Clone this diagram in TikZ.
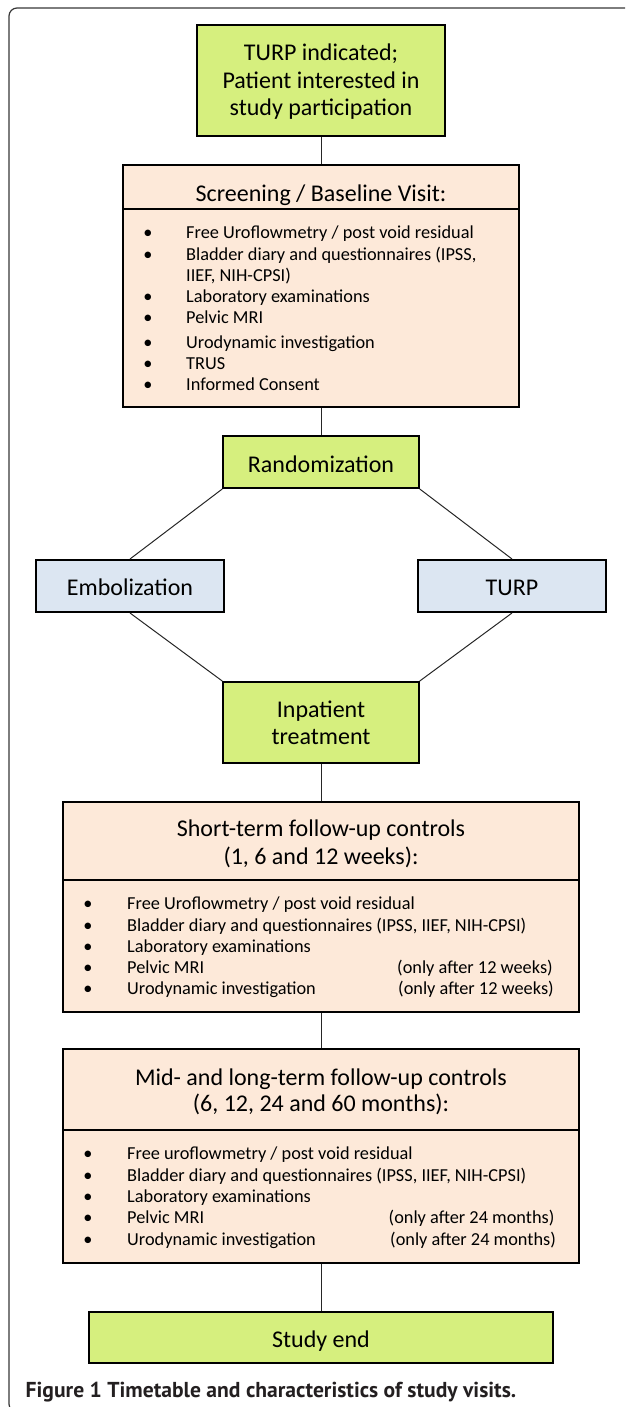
\documentclass[tikz,border=0pt]{standalone}
\usepackage{fontspec}
\setmainfont{Carlito}
\newfontfamily\capfont{PT Sans}
\definecolor{boxgreen}{RGB}{214,239,126}
\definecolor{boxpeach}{RGB}{253,233,217}
\definecolor{boxblue}{RGB}{220,230,242}
\definecolor{framegray}{RGB}{55,55,55}
\definecolor{captext}{RGB}{35,31,32}
\begin{document}
\begin{tikzpicture}[x=1pt,y=-1pt,
  box/.style={draw=black, line width=2pt, inner sep=0pt, anchor=center},
  gbox/.style={box, fill=boxgreen},
  pbox/.style={box, fill=boxpeach},
  bbox/.style={box, fill=boxblue},
  conn/.style={draw=black!85, line width=1pt},
  bigtxt/.style={font=\fontsize{24}{28}\selectfont, anchor=base, inner sep=0pt},
  itemtxt/.style={font=\fontsize{18.3}{21}\selectfont, anchor=base west, inner sep=0pt},
  bultxt/.style={font=\fontsize{18.3}{21}\selectfont, anchor=base, inner sep=0pt},
]
\useasboundingbox (0,0) rectangle (625,1407);
\begin{scope}
\clip (0,0) rectangle (625,1407);
\draw[framegray, line width=1.2pt, rounded corners=8pt] (9,8) rectangle (660,1412);
\end{scope}

% boxes
\node[gbox, minimum width=248pt, minimum height=111pt] (start) at (321,80.5) {};
\node[pbox, minimum width=396pt, minimum height=44pt] (scrH) at (321,187) {};
\node[pbox, minimum width=396pt, minimum height=198pt] (scrB) at (321,308) {};
\node[gbox, minimum width=195.5pt, minimum height=52pt] (rand) at (321,462) {};
\node[bbox, minimum width=188pt, minimum height=52pt] (emb) at (130,586) {};
\node[bbox, minimum width=188pt, minimum height=52pt] (turp) at (512,586) {};
\node[gbox, minimum width=195.5pt, minimum height=81pt] (inp) at (321,722.5) {};
\node[pbox, minimum width=516pt, minimum height=78pt] (stH) at (321,841) {};
\node[pbox, minimum width=516pt, minimum height=132pt] (stB) at (321,946) {};
\node[pbox, minimum width=516pt, minimum height=81pt] (midH) at (321,1089.5) {};
\node[pbox, minimum width=516pt, minimum height=133pt] (midB) at (321,1196.5) {};
\node[gbox, minimum width=464pt, minimum height=51pt] (end) at (321,1337.5) {};

% connectors
\draw[conn] (start.south) -- (scrH.north);
\draw[conn] (scrB.south) -- (rand.north);
\draw[conn] (rand.south west) -- (emb.north);
\draw[conn] (rand.south east) -- (turp.north);
\draw[conn] (emb.south) -- (inp.north west);
\draw[conn] (turp.south) -- (inp.north east);
\draw[conn] (inp.south) -- (stH.north);
\draw[conn] (stB.south) -- (midH.north);
\draw[conn] (midB.south) -- (end.north);

% texts: top box
\node[bigtxt] (t1a) at (321,60.7) {TURP indicated;};
\node[bigtxt] (t1b) at (321,88.3) {Patient interested in};
\node[bigtxt] (t1c) at (321,115.7) {study participation};

% screening
\node[bigtxt] (scrT) at (321,201) {Screening / Baseline Visit:};
\foreach \yy/\txt [count=\i] in {238.7/{Free Uroflowmetry / post void residual},
  260/{Bladder diary and questionnaires (IPSS,},
  302.7/{Laboratory examinations},
  323.3/{Pelvic MRI},
  348/{Urodynamic investigation},
  369.3/{TRUS},
  390.7/{Informed Consent}}{
  \node[bultxt] (sb\i) at (148,\yy) {•};
  \node[itemtxt] (si\i) at (186,\yy) {\txt};
}
\node[itemtxt] (si2b) at (186,281.3) {IIEF, NIH-CPSI)};

% randomization and arms
\node[bigtxt] (randT) at (321,472.3) {Randomization};
\node[bigtxt] (embT) at (130,595.3) {Embolization};
\node[bigtxt] (turpT) at (512,595.3) {TURP};
\node[bigtxt] (inpTa) at (321,717.7) {Inpatient};
\node[bigtxt] (inpTb) at (321,744.3) {treatment};

% short-term
\node[bigtxt] (stTa) at (321,836.7) {Short-term follow-up controls};
\node[bigtxt] (stTb) at (321,864.2) {(1, 6 and 12 weeks):};
\foreach \yy/\txt [count=\i] in {909.3/{Free Uroflowmetry / post void residual},
  931/{Bladder diary and questionnaires (IPSS, IIEF, NIH-CPSI)},
  952/{Laboratory examinations},
  973/{Pelvic MRI},
  994.3/{Urodynamic investigation}}{
  \node[bultxt] (stb\i) at (88,\yy) {•};
  \node[itemtxt] (sti\i) at (127,\yy) {\txt};
}
\node[itemtxt] (str4) at (397,973) {(only after 12 weeks)};
\node[itemtxt] (str5) at (398,994.3) {(only after 12 weeks)};

% mid/long-term
\node[bigtxt] (midTa) at (321,1085) {Mid- and long-term follow-up controls};
\node[bigtxt] (midTb) at (321,1111.7) {(6, 12, 24 and 60 months):};
\foreach \yy/\txt [count=\i] in {1159.3/{Free uroflowmetry / post void residual},
  1181/{Bladder diary and questionnaires (IPSS, IIEF, NIH-CPSI)},
  1202/{Laboratory examinations},
  1223.3/{Pelvic MRI},
  1245/{Urodynamic investigation}}{
  \node[bultxt] (mb\i) at (88,\yy) {•};
  \node[itemtxt] (mi\i) at (127,\yy) {\txt};
}
\node[itemtxt] (mr4) at (388.5,1223.3) {(only after 24 months)};
\node[itemtxt] (mr5) at (390,1245) {(only after 24 months)};

% study end
\node[bigtxt] (endT) at (321,1347.3) {Study end};

% caption
\node[anchor=base west, inner sep=0pt, text=captext, font=\capfont\bfseries\fontsize{21.6}{24}\selectfont] (cap) at (25.5,1397) {Figure 1 Timetable and characteristics of study visits.};
\end{tikzpicture}
\end{document}
